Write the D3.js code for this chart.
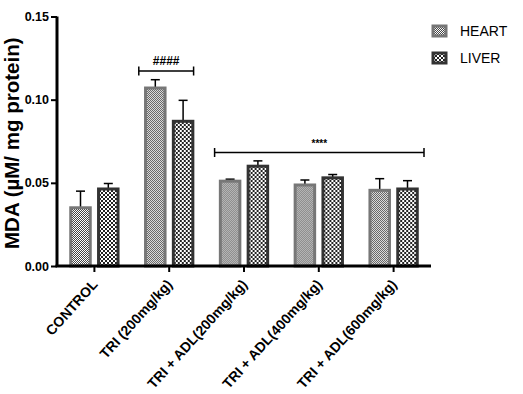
<!DOCTYPE html>
<html>
<head>
<meta charset="utf-8">
<script src="https://cdn.jsdelivr.net/npm/d3@7"></script>
<style>
  body { margin: 0; background: #fff; }
  svg { display: block; font-family: "Liberation Sans", Arial, sans-serif; }
</style>
</head>
<body>
<svg id="chart" width="523" height="394"></svg>
<script>
// groups on the x axis
const categories = ["CONTROL", "TRI (200mg/kg)", "TRI + ADL(200mg/kg)", "TRI + ADL(400mg/kg)", "TRI + ADL(600mg/kg)"];
const series = ["HEART", "LIVER"];
// mean MDA values
const heartMean = [0.035, 0.107, 0.051, 0.0487, 0.0455];
const heartSem = [0.010, 0.005, 0.0012, 0.003, 0.007];
const liverMean = [0.0463, 0.087, 0.060, 0.053, 0.0463];
const liverSem = [0.0033, 0.0126, 0.0032, 0.002, 0.005];
const yTicks = [0, 0.05, 0.10, 0.15];
// significance brackets
const brackets = [
  { from: "TRI (200mg/kg)", to: "TRI (200mg/kg)", y: 0.1172, label: "####" },
  { from: "TRI + ADL(200mg/kg)", to: "TRI + ADL(600mg/kg)", y: 0.0682, label: "****" }
];

const svg = d3.select("#chart");
const margin = { left: 57, right: 431, top: 16.5, bottom: 266 };

const x = d3.scaleBand().domain(categories).range([margin.left, margin.right]);
const y = d3.scaleLinear().domain([0, 0.15]).range([margin.bottom, margin.top]);
const half = 27.8;
const xSub = d3.scaleBand().domain(series).range([x.bandwidth() / 2 - half, x.bandwidth() / 2 + half]);
const barW = 19.5;

const data = categories.map((c, i) => ({
  cat: c,
  vals: [
    { s: "HEART", v: heartMean[i], e: heartSem[i] },
    { s: "LIVER", v: liverMean[i], e: liverSem[i] }
  ]
}));

// patterns
const defs = svg.append("defs");
const hp = defs.append("pattern").attr("id", "heartPat")
  .attr("patternUnits", "userSpaceOnUse").attr("width", 2).attr("height", 2);
hp.append("rect").attr("width", 2).attr("height", 2).attr("fill", "#fff");
hp.append("rect").attr("width", 1).attr("height", 1).attr("fill", "#444");
hp.append("rect").attr("x", 1).attr("y", 1).attr("width", 1).attr("height", 1).attr("fill", "#444");

const lp = defs.append("pattern").attr("id", "liverPat")
  .attr("patternUnits", "userSpaceOnUse").attr("width", 4).attr("height", 4);
lp.append("rect").attr("width", 4).attr("height", 4).attr("fill", "#fff");
lp.append("rect").attr("width", 2).attr("height", 2).attr("fill", "#222");
lp.append("rect").attr("x", 2).attr("y", 2).attr("width", 2).attr("height", 2).attr("fill", "#222");

const fills = { HEART: "url(#heartPat)", LIVER: "url(#liverPat)" };
const strokes = { HEART: "#777", LIVER: "#333" };

// bars
const grp = svg.append("g").selectAll("g")
  .data(data).enter().append("g")
  .attr("transform", d => `translate(${x(d.cat)},0)`);

grp.selectAll("line.err").data(d => d.vals).enter().append("line")
  .attr("class", "err")
  .attr("x1", d => xSub(d.s) + xSub.bandwidth() / 2)
  .attr("x2", d => xSub(d.s) + xSub.bandwidth() / 2)
  .attr("y1", d => y(d.v))
  .attr("y2", d => y(d.v + d.e))
  .attr("stroke", "#000").attr("stroke-width", 1.5);

grp.selectAll("line.cap").data(d => d.vals).enter().append("line")
  .attr("class", "cap")
  .attr("x1", d => xSub(d.s) + xSub.bandwidth() / 2 - 4.5)
  .attr("x2", d => xSub(d.s) + xSub.bandwidth() / 2 + 4.5)
  .attr("y1", d => y(d.v + d.e))
  .attr("y2", d => y(d.v + d.e))
  .attr("stroke", "#000").attr("stroke-width", 1.5);

grp.selectAll("rect").data(d => d.vals).enter().append("rect")
  .attr("x", d => xSub(d.s) + (xSub.bandwidth() - barW) / 2)
  .attr("width", barW)
  .attr("y", d => y(d.v))
  .attr("height", d => y(0) - y(d.v))
  .attr("fill", d => fills[d.s])
  .attr("stroke", d => strokes[d.s])
  .attr("stroke-width", 3);

// axes
const yAxis = svg.append("g")
  .attr("transform", `translate(${margin.left},0)`)
  .call(d3.axisLeft(y).tickValues(yTicks).tickFormat(d3.format(".2f")).tickSize(6).tickPadding(2));
yAxis.select(".domain").attr("stroke-width", 3).attr("d", `M0,${margin.top}V${margin.bottom}`);
yAxis.selectAll(".tick line").attr("stroke-width", 2);
yAxis.selectAll(".tick text")
  .attr("font-size", 12.5).attr("font-weight", "bold").attr("fill", "#000")
  .attr("font-family", "Liberation Sans, Arial, sans-serif");

const xAxis = svg.append("g")
  .attr("transform", `translate(0,${margin.bottom})`)
  .call(d3.axisBottom(x).tickSize(6).tickSizeOuter(0));
xAxis.select(".domain").attr("stroke-width", 3).attr("d", `M${margin.left - 1.5},0H${margin.right}`);
xAxis.selectAll(".tick line").attr("stroke-width", 2);
xAxis.selectAll(".tick text")
  .attr("font-size", 14).attr("font-weight", "bold").attr("fill", "#000")
  .attr("font-family", "Liberation Sans, Arial, sans-serif")
  .attr("text-anchor", "end")
  .attr("dy", null).attr("y", 0)
  .attr("transform", "translate(4,19) rotate(-48)");

// y title
svg.append("text")
  .attr("transform", `translate(19,${(margin.top + margin.bottom) / 2 + 2}) rotate(-90)`)
  .attr("text-anchor", "middle")
  .attr("font-size", 20.5).attr("font-weight", "bold")
  .text("MDA (µM/ mg protein)");

// significance brackets
const br = svg.append("g").selectAll("g").data(brackets).enter().append("g");
br.each(function (d, i) {
  const g = d3.select(this);
  const x1 = x(d.from) + (i === 0 ? 7 : 8);
  const x2 = x(d.to) + x.bandwidth() - (i === 0 ? 13 : 7);
  const yy = y(d.y);
  g.append("path")
    .attr("d", `M${x1},${yy - 4.5}V${yy + 4.5}M${x1},${yy}H${x2}M${x2},${yy - 4.5}V${yy + 4.5}`)
    .attr("stroke", "#000").attr("stroke-width", 1.5).attr("fill", "none");
  g.append("text")
    .attr("x", (x1 + x2) / 2)
    .attr("y", yy - 6)
    .attr("text-anchor", "middle")
    .attr("font-size", i === 0 ? 12 : 10)
    .attr("font-weight", "bold")
    .text(d.label);
});

// legend
const legend = svg.append("g").selectAll("g").data(series).enter().append("g")
  .attr("transform", (d, i) => `translate(433,${26 + i * 27})`);
legend.append("rect")
  .attr("width", 13).attr("height", 10)
  .attr("fill", d => fills[d])
  .attr("stroke", d => strokes[d]).attr("stroke-width", 3);
legend.append("text")
  .attr("x", 27).attr("y", 5).attr("dy", "0.35em")
  .attr("font-size", 14)
  .text(d => d);
</script>
</body>
</html>
